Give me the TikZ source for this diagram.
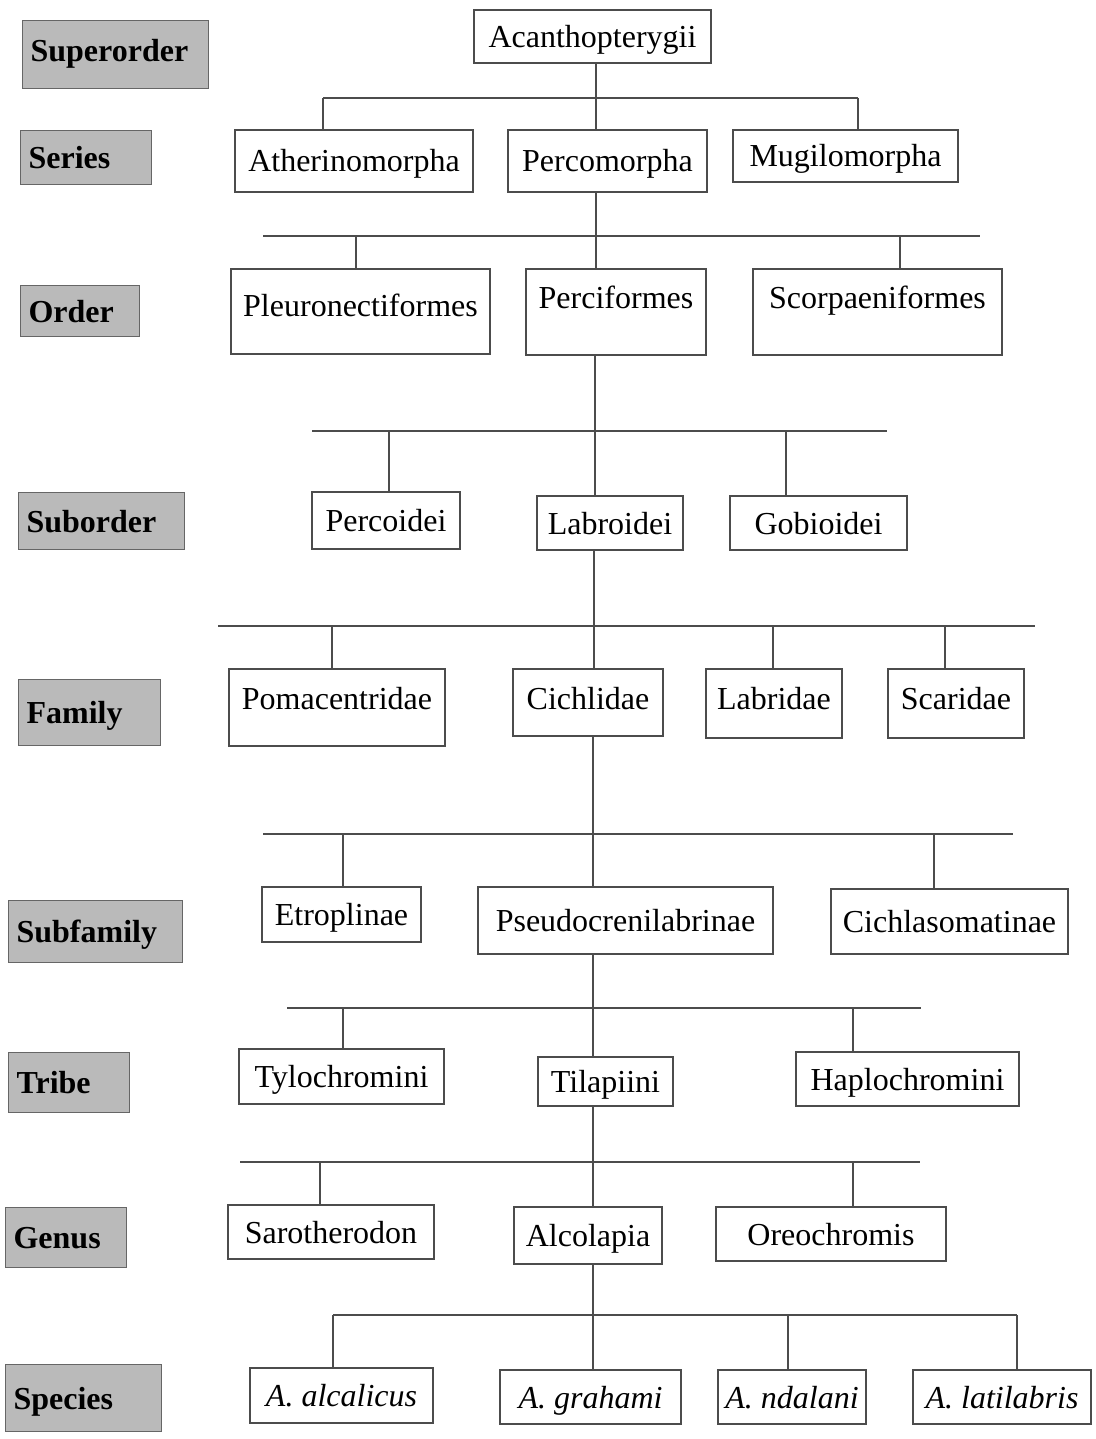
\documentclass[tikz,border=0pt]{standalone}
\usepackage{fontspec}
\setmainfont{Liberation Serif}

\begin{document}
\begin{tikzpicture}[x=1pt,y=-1pt]
  \tikzset{RankStyle/.style 2 args = {draw         = black!60,
                                      fill         = black!27,
                                      font         = \fontsize{32}{38}\selectfont\bfseries,
                                      anchor       = north west,
                                      text width   = #1,
                                      minimum height = #2,
                                      text height  = 28pt,
                                      text depth   = 6pt,
                                      inner xsep   = 8pt,
                                      inner ysep   = 0pt,
                                      align        = left,
                                      line width   = 1.2pt},
           TaxonStyle/.style 2 args = {draw         = black!70,
                                       font         = \fontsize{32}{38}\selectfont,
                                       minimum width  = #1,
                                       minimum height = #2,
                                       text height  = 28pt,
                                       text depth   = 6pt,
                                       inner sep    = 0pt,
                                       line width   = 1.2pt},
           LinkStyle/.style = {draw=black!70, line width=1.2pt}}
  \useasboundingbox (0,0) rectangle (1095,1439);
  %%% RANGS %%%
  \node[RankStyle={170pt}{68pt}, text depth=14pt] (superorder) at (22,20) {Superorder};
  \node[RankStyle={115pt}{54pt}] (series)     at (20,130)  {Series};
  \node[RankStyle={103pt}{51pt}] (order)      at (20,285)  {Order};
  \node[RankStyle={150pt}{57pt}] (suborder)   at (18,492)  {Suborder};
  \node[RankStyle={126pt}{66pt}] (family)     at (18,679)  {Family};
  \node[RankStyle={158pt}{62pt}] (subfamily)  at (8,900)   {Subfamily};
  \node[RankStyle={105pt}{60pt}] (tribe)      at (8,1052)  {Tribe};
  \node[RankStyle={105pt}{60pt}] (genus)      at (5,1207)  {Genus};
  \node[RankStyle={140pt}{67pt}] (species)    at (5,1364)  {Species};
  %%% TAXONS %%%
  \node[TaxonStyle={237pt}{53pt}] (acan)     at (592.5,36.5)  {Acanthopterygii};
  %
  \node[TaxonStyle={238pt}{62pt}] (ather)    at (354,161)     {Atherinomorpha};
  \node[TaxonStyle={199pt}{62pt}] (percom)   at (607.5,161)   {Percomorpha};
  \node[TaxonStyle={225pt}{52pt}] (mugil)    at (845.5,156)   {Mugilomorpha};
  %
  \node[TaxonStyle={259pt}{85pt}, text depth=19pt] (pleur) at (360.5,311.5) {Pleuronectiformes};
  \node[TaxonStyle={180pt}{86pt}, text depth=36pt] (percif) at (616,312)    {Perciformes};
  \node[TaxonStyle={249pt}{86pt}, text depth=36pt] (scorp)  at (877.5,312)  {Scorpaeniformes};
  %
  \node[TaxonStyle={148pt}{57pt}] (percoid)  at (386,520.5)   {Percoidei};
  \node[TaxonStyle={146pt}{54pt}] (labroid)  at (610,523)     {Labroidei};
  \node[TaxonStyle={177pt}{54pt}] (gobioid)  at (818.5,523)   {Gobioidei};
  %
  \node[TaxonStyle={216pt}{77pt}, text depth=25pt] (pomac) at (337,707.5) {Pomacentridae};
  \node[TaxonStyle={150pt}{67pt}, text depth=15pt] (cichl) at (588,702.5) {Cichlidae};
  \node[TaxonStyle={136pt}{69pt}, text depth=17pt] (labrid) at (774,703.5) {Labridae};
  \node[TaxonStyle={136pt}{69pt}, text depth=17pt] (scarid) at (956,703.5) {Scaridae};
  %
  \node[TaxonStyle={159pt}{55pt}] (etrop)    at (341.5,914.5) {Etroplinae};
  \node[TaxonStyle={295pt}{67pt}] (pseudo)   at (625.5,920.5) {Pseudocrenilabrinae};
  \node[TaxonStyle={237pt}{65pt}] (cichlas)  at (949.5,921.5) {Cichlasomatinae};
  %
  \node[TaxonStyle={205pt}{55pt}] (tyloch)   at (341.5,1076.5) {Tylochromini};
  \node[TaxonStyle={135pt}{49pt}] (tilap)    at (605.5,1081.5) {Tilapiini};
  \node[TaxonStyle={223pt}{54pt}] (haploch)  at (907.5,1079)   {Haplochromini};
  %
  \node[TaxonStyle={206pt}{54pt}] (saroth)   at (331,1232)     {Sarotherodon};
  \node[TaxonStyle={148pt}{57pt}] (alcol)    at (588,1235.5)   {Alcolapia};
  \node[TaxonStyle={230pt}{54pt}] (oreoch)   at (831,1234)     {Oreochromis};
  %
  \node[TaxonStyle={183pt}{55pt}, font=\fontsize{32}{38}\selectfont\itshape] (alcal)   at (341.5,1395.5) {A. alcalicus};
  \node[TaxonStyle={181pt}{54pt}, font=\fontsize{32}{38}\selectfont\itshape] (graham)  at (590.5,1397)   {A. grahami};
  \node[TaxonStyle={148pt}{54pt}, font=\fontsize{32}{38}\selectfont\itshape] (ndalan)  at (792,1397)     {A. ndalani};
  \node[TaxonStyle={178pt}{54pt}, font=\fontsize{32}{38}\selectfont\itshape] (latilab) at (1002,1397)    {A. latilabris};
  %%% LIENS %%%
  % Series
  \coordinate (L1a) at (323,98);  \coordinate (L1b) at (858,98);  \coordinate (L1t) at (596,98);
  \draw[LinkStyle] (L1a) -- (L1b);
  \draw[LinkStyle] (L1t |- acan.south) -- (L1t |- percom.north);
  \draw[LinkStyle] (L1a) -- (L1a |- ather.north);
  \draw[LinkStyle] (L1b) -- (L1b |- mugil.north);
  % Order
  \coordinate (L2a) at (263,236); \coordinate (L2b) at (980,236); \coordinate (L2t) at (596,236);
  \coordinate (L2p) at (356,236); \coordinate (L2s) at (900,236);
  \draw[LinkStyle] (L2a) -- (L2b);
  \draw[LinkStyle] (L2t |- percom.south) -- (L2t |- percif.north);
  \draw[LinkStyle] (L2p) -- (L2p |- pleur.north);
  \draw[LinkStyle] (L2s) -- (L2s |- scorp.north);
  % Suborder
  \coordinate (L3a) at (312,431); \coordinate (L3b) at (887,431); \coordinate (L3t) at (595,431);
  \coordinate (L3p) at (389,431); \coordinate (L3g) at (786,431);
  \draw[LinkStyle] (L3a) -- (L3b);
  \draw[LinkStyle] (L3t |- percif.south) -- (L3t |- labroid.north);
  \draw[LinkStyle] (L3p) -- (L3p |- percoid.north);
  \draw[LinkStyle] (L3g) -- (L3g |- gobioid.north);
  % Family
  \coordinate (L4a) at (218,626); \coordinate (L4b) at (1035,626); \coordinate (L4t) at (594,626);
  \coordinate (L4p) at (332,626); \coordinate (L4l) at (773,626); \coordinate (L4s) at (945,626);
  \draw[LinkStyle] (L4a) -- (L4b);
  \draw[LinkStyle] (L4t |- labroid.south) -- (L4t |- cichl.north);
  \draw[LinkStyle] (L4p) -- (L4p |- pomac.north);
  \draw[LinkStyle] (L4l) -- (L4l |- labrid.north);
  \draw[LinkStyle] (L4s) -- (L4s |- scarid.north);
  % Subfamily
  \coordinate (L5a) at (263,834); \coordinate (L5b) at (1013,834); \coordinate (L5t) at (593,834);
  \coordinate (L5e) at (343,834); \coordinate (L5c) at (934,834);
  \draw[LinkStyle] (L5a) -- (L5b);
  \draw[LinkStyle] (L5t |- cichl.south) -- (L5t |- pseudo.north);
  \draw[LinkStyle] (L5e) -- (L5e |- etrop.north);
  \draw[LinkStyle] (L5c) -- (L5c |- cichlas.north);
  % Tribe
  \coordinate (L6a) at (287,1008); \coordinate (L6b) at (921,1008); \coordinate (L6t) at (593,1008);
  \coordinate (L6y) at (343,1008); \coordinate (L6h) at (853,1008);
  \draw[LinkStyle] (L6a) -- (L6b);
  \draw[LinkStyle] (L6t |- pseudo.south) -- (L6t |- tilap.north);
  \draw[LinkStyle] (L6y) -- (L6y |- tyloch.north);
  \draw[LinkStyle] (L6h) -- (L6h |- haploch.north);
  % Genus
  \coordinate (L7a) at (240,1162); \coordinate (L7b) at (920,1162); \coordinate (L7t) at (593,1162);
  \coordinate (L7s) at (320,1162); \coordinate (L7o) at (853,1162);
  \draw[LinkStyle] (L7a) -- (L7b);
  \draw[LinkStyle] (L7t |- tilap.south) -- (L7t |- alcol.north);
  \draw[LinkStyle] (L7s) -- (L7s |- saroth.north);
  \draw[LinkStyle] (L7o) -- (L7o |- oreoch.north);
  % Species
  \coordinate (L8a) at (333,1315); \coordinate (L8b) at (1017,1315); \coordinate (L8t) at (593,1315);
  \coordinate (L8n) at (788,1315);
  \draw[LinkStyle] (L8a) -- (L8b);
  \draw[LinkStyle] (L8t |- alcol.south) -- (L8t |- graham.north);
  \draw[LinkStyle] (L8a) -- (L8a |- alcal.north);
  \draw[LinkStyle] (L8n) -- (L8n |- ndalan.north);
  \draw[LinkStyle] (L8b) -- (L8b |- latilab.north);
\end{tikzpicture}
\end{document}
